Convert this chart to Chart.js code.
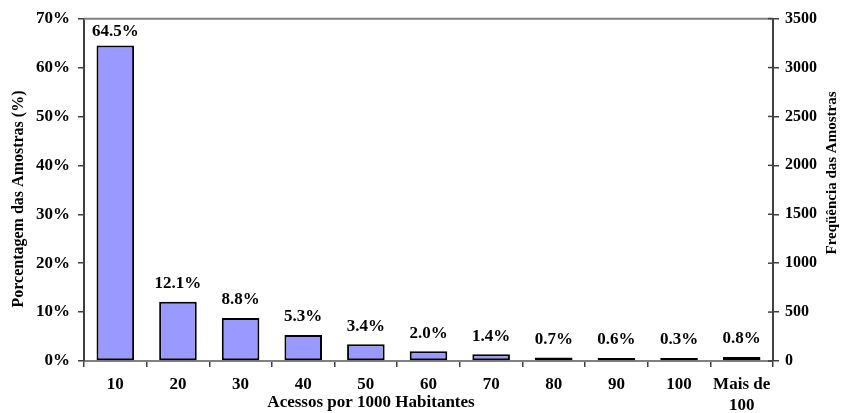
<!DOCTYPE html>
<html>
<head>
<meta charset="utf-8">
<script src="https://cdn.jsdelivr.net/npm/chart.js@4/dist/chart.umd.min.js"></script>
<style>
  body { margin: 0; background: #fff; }
  canvas { display: block; }
</style>
</head>
<body>
<canvas id="chart" width="841" height="413"></canvas>
<script>
// Histogram — acessos por 1000 habitantes
const categories = ['10', '20', '30', '40', '50', '60', '70', '80', '90', '100', ['Mais de', '100']];
const percentages = [64.5, 12.1, 8.8, 5.3, 3.4, 2.0, 1.4, 0.7, 0.6, 0.3, 0.8];
const pctTicks = [0, 10, 20, 30, 40, 50, 60, 70];
const freqTicks = [0, 500, 1000, 1500, 2000, 2500, 3000, 3500];

const FONT = "'Liberation Serif', 'Times New Roman', serif";
const tickFont = { family: FONT, size: 17, weight: 'bold', lineHeight: 1.25 };

// value labels, frame top line, inner ticks on right axis, axis titles
const extras = {
    id: 'extras',
    afterDatasetsDraw(chart) {
        const ctx = chart.ctx;
        const area = chart.chartArea;
        ctx.save();

        // top border of plot area
        ctx.strokeStyle = '#808080';
        ctx.lineWidth = 2;
        ctx.beginPath();
        ctx.moveTo(area.left, area.top);
        ctx.lineTo(area.right, area.top);
        ctx.stroke();

        // right axis ticks crossing into plot
        const y2 = chart.scales.y2;
        ctx.strokeStyle = '#404040';
        ctx.lineWidth = 1.5;
        y2.ticks.forEach((t, i) => {
            const y = y2.getPixelForTick(i);
            ctx.beginPath();
            ctx.moveTo(area.right - 5, y);
            ctx.lineTo(area.right, y);
            ctx.stroke();
        });

        // value labels
        ctx.fillStyle = '#000';
        ctx.font = `bold 17px ${FONT}`;
        ctx.textAlign = 'center';
        ctx.textBaseline = 'middle';
        chart.getDatasetMeta(0).data.forEach((bar, i) => {
            const y = Math.max(bar.y - 18, 32);
            ctx.fillText(percentages[i].toFixed(1) + '%', bar.x, y);
        });

        // axis titles
        ctx.font = `bold 17px ${FONT}`;
        ctx.fillText('Acessos por 1000 Habitantes', 371, 403);

        ctx.font = `bold 16px ${FONT}`;
        ctx.translate(19, 199);
        ctx.rotate(-Math.PI / 2);
        ctx.fillText('Porcentagem das Amostras (%)', 0, 0);
        ctx.rotate(Math.PI / 2);
        ctx.translate(-19, -199);

        ctx.font = `bold 15px ${FONT}`;
        ctx.translate(832, 173);
        ctx.rotate(-Math.PI / 2);
        ctx.fillText('Freqüência das Amostras', 0, 0);
        ctx.restore();
    }
};

new Chart(document.getElementById('chart'), {
    type: 'bar',
    data: {
        labels: categories,
        datasets: [{
            data: percentages,
            backgroundColor: '#9999ff',
            borderColor: '#000',
            borderWidth: 2,
            borderSkipped: false,
            minBarLength: 3,
            barPercentage: 0.6,
            categoryPercentage: 1,
            yAxisID: 'y',
        }]
    },
    options: {
        responsive: false,
        animation: false,
        layout: { padding: { top: 18, left: 0, right: 0, bottom: 0 } },
        plugins: {
            legend: { display: false },
            tooltip: { enabled: false },
        },
        scales: {
            x: {
                grid: { offset: true, drawOnChartArea: false, tickLength: 6, color: '#404040', lineWidth: 1.5 },
                border: { color: '#808080', width: 2 },
                ticks: { font: tickFont, color: '#000', padding: 7, maxRotation: 0, autoSkip: false },
                afterFit: (s) => { s.height = 52; },
            },
            y: {
                position: 'left',
                min: 0,
                max: 70,
                afterBuildTicks: (s) => { s.ticks = pctTicks.map(v => ({ value: v })); },
                grid: { drawOnChartArea: false, tickLength: 6, color: '#404040', lineWidth: 1.5 },
                border: { color: '#404040', width: 2 },
                ticks: { font: tickFont, color: '#000', padding: 8, callback: (v) => v + '%' },
                afterFit: (s) => { s.width = 84; },
            },
            y2: {
                position: 'right',
                min: 0,
                max: 3500,
                afterBuildTicks: (s) => { s.ticks = freqTicks.map(v => ({ value: v })); },
                grid: { drawOnChartArea: false, tickLength: 6, color: '#404040', lineWidth: 1.5 },
                border: { color: '#404040', width: 2 },
                ticks: { font: { family: FONT, size: 16, weight: 'bold' }, color: '#000', padding: 6, callback: (v) => String(v) },
                afterFit: (s) => { s.width = 68; },
            }
        }
    },
    plugins: [extras]
});
</script>
</body>
</html>
